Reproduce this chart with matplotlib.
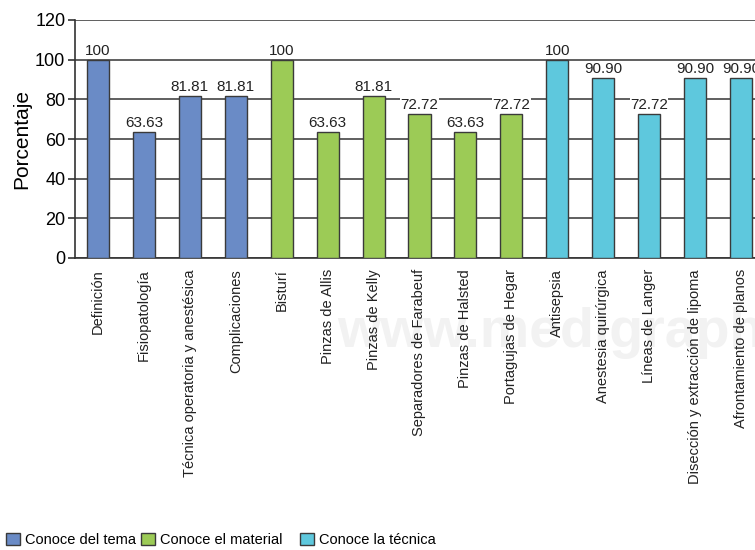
import matplotlib.pyplot as plt
from matplotlib.patches import Patch

categorias = ["Definición", "Fisiopatología", "Técnica operatoria y anestésica",
              "Complicaciones", "Bisturí", "Pinzas de Allis", "Pinzas de Kelly",
              "Separadores de Farabeuf", "Pinzas de Halsted", "Portagujas de Hegar",
              "Antisepsia", "Anestesia quirúrgica", "Líneas de Langer",
              "Disección y extracción de lipoma", "Afrontamiento de planos"]
valores = [100, 63.63, 81.81, 81.81, 100, 63.63, 81.81, 72.72, 63.63, 72.72,
           100, 90.90, 72.72, 90.90, 90.90]
etiquetas = ["100", "63.63", "81.81", "81.81", "100", "63.63", "81.81", "72.72",
             "63.63", "72.72", "100", "90.90", "72.72", "90.90", "90.90"]
grupos = [0, 0, 0, 0, 1, 1, 1, 1, 1, 1, 2, 2, 2, 2, 2]
nombres_grupo = ["Conoce del tema", "Conoce el material", "Conoce la técnica"]
colores = ['#6a8bc6', '#9ccb56', '#5ec8dd']

plt.rcParams['font.family'] = ['Liberation Sans', 'DejaVu Sans']

fig = plt.figure(figsize=(7.55, 5.5), dpi=100)
# axes run past the right edge of the figure, like the cropped original
ax = fig.add_axes([75 / 755, 1 - 258 / 550, 689 / 755, 238 / 550])

# faint watermark, kept behind everything
ax.text(0.76, 0.395, "www.medigraphic", fontsize=40, color='#f2f2f2',
        ha='center', va='center', fontweight='bold', zorder=0.1,
        transform=fig.transFigure, clip_on=False)

x = list(range(len(categorias)))
ax.bar(x, valores, width=0.48, color=[colores[g] for g in grupos],
       edgecolor='#3a3a3a', linewidth=1.0, zorder=3)

for xi, v, t in zip(x, valores, etiquetas):
    ax.text(xi, v + 0.8, t, ha='center', va='bottom', fontsize=11,
            color='#222222', zorder=4,
            bbox=dict(facecolor='white', edgecolor='none', pad=0.2))

ax.set_xlim(-0.5, 14.5)
ax.set_ylim(0, 120)
ax.set_yticks(range(0, 121, 20))
ax.tick_params(axis='y', labelsize=13, length=5, width=1.2, color='#333333', pad=2)
ax.set_xticks(x)
ax.set_xticklabels(categorias, rotation=90, fontsize=10.5, color='#222222')
ax.tick_params(axis='x', length=0, pad=8)
ax.yaxis.grid(True, color='#444444', linewidth=1.2, zorder=0)
ax.set_axisbelow(True)
ax.patch.set_alpha(0)
for s in ['top', 'right']:
    ax.spines[s].set_visible(False)
for s in ['left', 'bottom']:
    ax.spines[s].set_linewidth(1.2)
    ax.spines[s].set_color('#333333')
ax.set_ylabel("Porcentaje", fontsize=15, labelpad=3)

# legend entries sit at uneven spacing in the original
leg_x = [5 / 755, 140 / 755, 299 / 755]
for i in range(3):
    fig.legend([Patch(facecolor=colores[i], edgecolor='#3a3a3a')],
               [nombres_grupo[i]], loc='center left',
               bbox_to_anchor=(leg_x[i], 10 / 550), frameon=False,
               fontsize=10.5, handlelength=0.9, handleheight=0.9,
               handletextpad=0.4, borderaxespad=0, borderpad=0.1)

plt.savefig("out.png", dpi=100)
plt.close()
